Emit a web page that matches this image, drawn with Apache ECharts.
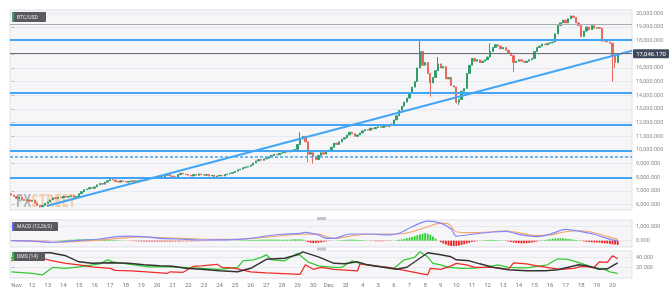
<!DOCTYPE html>
<html><head><meta charset="utf-8">
<script src="https://cdn.jsdelivr.net/npm/echarts@6/dist/echarts.min.js"></script>
<style>html,body{margin:0;padding:0;background:#fff}#c{width:670px;height:299px}</style>
</head><body><div id="c"></div>
<script>
// ---------- DATA ----------
const firstOpen = 6800;
// 4h closes, Nov 10 16:00 -> Dec 20 08:00 (Dec 2 04:00-20:00 missing)
const closes = [
 6700,6600,
 6450,6550,6400,6300,6350,6250,
 6300,6100,5950,5850,5950,6100,
 6200,6350,6500,6450,6550,6500,
 6600,6550,6600,6650,6550,6600,
 6800,6950,7100,7150,7250,7200,
 7300,7450,7550,7500,7650,7750,
 7850,7800,7700,7650,7750,7700,
 7650,7700,7750,7700,7750,7800,
 7750,7800,7850,7900,7950,8000,
 8050,8100,8000,8150,8200,8100,
 8050,7950,8200,8300,8250,8200,
 8150,8100,8200,8150,8250,8200,
 8150,8200,8100,8150,8050,8100,
 8150,8100,8200,8250,8300,8350,
 8450,8550,8600,8700,8750,8800,
 8900,9050,9200,9300,9250,9350,
 9400,9500,9600,9700,9650,9750,
 9800,9900,9850,9950,10000,10050,
 10400,10800,11000,10600,9700,9800,
 9500,9300,9600,9800,9700,9900,
 10000,10200,10500,10400,10600,10800,
 10900,
 11100,11300,11200,11000,11100,11250,
 11400,11500,11450,11600,11550,11650,
 11700,11650,11750,11700,11800,11900,
 12200,12500,12900,13200,13500,13800,
 14200,14600,15000,16000,17200,16200,
 16400,15600,14900,15300,15800,16300,
 16000,16100,15200,15300,14700,14600,
 13500,13700,14300,14500,15600,16200,
 16700,16500,16600,16400,16500,16600,
 16800,17200,17500,17700,17600,17400,
 17500,17300,17100,16900,16400,16500,
 16600,16500,16400,16500,16600,16700,
 17200,17500,17600,17750,17700,17800,
 17850,17900,18500,19100,19300,19500,
 19300,19600,19800,19700,19300,19100,
 18300,18700,19000,18800,19100,18900,
 18950,18900,17950,18000,17900,17800,
 16900,16400,17046.17
];
// notable wicks: [candle index, high, low]
const wicks = [
 [11,null,5800],[111,11300,null],[114,null,9100],[116,null,9000],
 [157,18050,null],[161,null,13900],[164,16800,null],[171,null,13400],[172,null,13300],
 [184,17800,null],[193,null,15700],[215,19850,null],[219,null,18250],
 [231,null,15000],[232,null,16000]
];
const blueLevels = [18050, 14220, 11880, 9930, 8000];
const dashedLevels = [9510];
const grayLevels = [19215];
const lastPrice = 17046.17;
const trendline = [[13.6, 5903], [238.5, 17264]];

const macdLine = [[0,0],[8,-30],[13,-100],[16,-120],[21,-50],[26,20],[34,120],[40,290],[45,330],[50,290],[57,170],[67,100],[73,50],[80,60],[85,80],[92,170],[98,330],[104,460],[111,530],[113,600],[118,410],[121,170],[124,170],[130,480],[137,480],[145,410],[149,530],[154,1000],[160,1400],[165,1260],[169,830],[171,330],[177,460],[185,620],[190,670],[196,410],[202,290],[207,460],[213,810],[219,650],[224,460],[230,100],[233,0]];
const signalLine = [[0,0],[8,-20],[16,-110],[24,-60],[34,40],[40,150],[50,270],[57,230],[73,120],[85,90],[98,250],[111,460],[118,470],[121,290],[124,170],[131,360],[137,460],[145,480],[149,480],[154,640],[160,1000],[165,1260],[168,1190],[171,640],[177,570],[185,640],[190,710],[196,530],[202,360],[207,410],[213,640],[219,710],[224,570],[230,240],[233,100]];
const macdHist = [
 -20,-25,-30,-35,-40,-40,-45,-40,-40,-35,-30,-30,-25,-20,-15,-10,-5,
 10,20,30,40,50,60,70,80,90,100,110,110,120,120,110,110,100,90,80,70,60,50,40,40,30,20,15,10,
 -10,-20,-30,-40,-40,-50,-50,-60,-60,-60,-60,-60,-60,-60,-60,-55,-55,-50,-50,-50,-50,-45,-45,-40,-40,-40,-35,-35,-30,-30,-25,-25,-20,-20,-15,-15,-10,-10,-5,-5,
 10,15,20,30,35,40,50,55,60,65,70,75,80,80,80,80,80,80,75,75,70,70,80,90,100,110,100,80,
 -40,-100,-150,-170,-160,-140,-110,-80,-50,
 -20,-10,0,10,20,
 40,60,70,80,80,70,60,50,40,20,
 -10,-20,-30,-40,-40,-40,-35,-30,-20,-10,0,
 30,60,90,130,170,220,270,330,390,450,500,530,500,420,300,
 150,0,-100,-200,-280,-340,-380,-380,-370,-340,-300,-250,-200,-150,-100,-60,-30,-10,
 20,40,50,60,60,50,40,30,10,
 -20,-60,-100,-130,-160,-180,-190,-190,-180,-160,-130,-100,-60,-20,
 20,50,80,110,140,160,170,170,160,150,130,110,80,50,20,
 -20,-50,-80,-100,-110,-120,-130,-140,-160,-180,-200,-230,-260,-280,-300
];
const adxLine = [[0,38],[13,49],[15,49],[21,43],[26,31],[31,28],[38,29],[45,28],[51,25],[57,23],[62,22],[67,18],[73,16],[80,13],[87,11],[92,18],[98,36],[105,38],[110,45],[112,51],[118,41],[124,28],[128,27],[133,31],[137,25],[143,20],[148,16],[152,20],[160,49],[165,45],[169,41],[171,35],[176,33],[180,27],[185,20],[191,15],[198,13],[205,13],[210,15],[214,20],[218,25],[221,23],[226,16],[229,17],[233,29]];
const plusDI = [[0,11],[8,8],[12,5],[16,20],[21,18],[26,21],[30,24],[34,27],[37,35],[39,31],[43,28],[47,25],[53,21],[60,21],[66,20],[73,18],[80,16],[87,20],[89,33],[93,35],[96,40],[98,45],[100,35],[105,33],[110,48],[114,31],[118,23],[124,20],[127,20],[131,33],[135,26],[143,21],[147,18],[151,35],[155,40],[157,51],[160,41],[162,28],[165,25],[168,20],[173,18],[176,18],[182,20],[187,25],[191,20],[198,19],[202,22],[206,25],[210,37],[214,36],[219,28],[223,21],[228,16],[230,11],[233,8]];
const minusDI = [[0,33],[3,38],[8,34],[12,38],[15,34],[21,28],[26,25],[31,21],[38,18],[40,14],[46,13],[52,11],[60,8],[61,11],[66,10],[70,22],[73,23],[79,26],[81,20],[85,19],[92,11],[98,9],[111,6],[113,25],[116,16],[119,20],[124,16],[133,13],[134,27],[139,23],[145,20],[150,15],[156,9],[160,5],[161,18],[165,16],[169,23],[171,28],[175,25],[178,20],[185,20],[191,16],[193,29],[198,27],[202,23],[207,19],[211,16],[216,18],[219,22],[224,20],[226,31],[229,30],[231,43],[233,37]];

const priceTicks = [6000,7000,8000,9000,10000,11000,12000,13000,14000,15000,16000,17000,18000,19000,20000];
const macdTicks = [0,1000];
const dmsTicks = [20,40];
const monthNames = ['Jan','Feb','Mar','Apr','May','Jun','Jul','Aug','Sep','Oct','Nov','Dec'];

// ---------- categories (4h timestamps) ----------
const H4 = 4*3600e3;
const categories = [];
{
  let t = Date.UTC(2017,10,10,16);
  const skipFrom = Date.UTC(2017,11,2,4), skipTo = Date.UTC(2017,11,3,0);
  while (categories.length < closes.length) { if (!(t>=skipFrom && t<skipTo)) categories.push(t); t += H4; }
  for (let k=0;k<5;k++){ categories.push(t); t += H4; }
}
const N = categories.length;
const firstMidnight = categories.findIndex(t => new Date(t).getUTCHours()===0);

const ohlc = closes.map((c,i)=>{
  const o = i ? closes[i-1] : firstOpen;
  let hi = Math.max(o,c), lo = Math.min(o,c);
  const w = wicks.find(w=>w[0]===i);
  if (w) { if (w[1]!=null) hi = w[1]; if (w[2]!=null) lo = w[2]; }
  return [o,c,lo,hi];
});

const fmt = v => v.toLocaleString('en-US',{minimumFractionDigits:3,maximumFractionDigits:3});
const GREEN = '#2f9e6a', RED = '#e8685a', BLUE = '#42a5f5';
const gridStyle = {show:true, backgroundColor:'#f6f6f8', borderColor:'#dde1ea', borderWidth:1};
const grids = [
  Object.assign({left:10, right:38, top:10, height:200}, gridStyle),
  Object.assign({left:10, right:38, top:220, height:27}, gridStyle),
  Object.assign({left:10, right:38, top:251, height:27}, gridStyle)
];
const catAxis = (g, showLabels) => ({
  type:'category', gridIndex:g, data:categories, boundaryGap:true,
  axisLine:{show:false}, axisTick:{show:false}, splitLine:{show:false},
  axisLabel: showLabels ? {
    show:true, fontSize:6, color:'#7a7a7a', margin:4, fontFamily:'Roboto',
    interval:(idx,val)=> idx < closes.length && new Date(+val).getUTCHours()===0,
    formatter:(val,idx)=>{ const d=new Date(+val); if (idx===firstMidnight || d.getUTCDate()===1) return monthNames[d.getUTCMonth()]; return String(d.getUTCDate()); }
  } : {show:false}
});
const valXAxis = g => ({type:'value', gridIndex:g, min:-0.5, max:N-0.5, show:false});
const yAx = (g,min,max,ticks) => ({
  type:'value', gridIndex:g, position:'right', min, max, scale:true,
  axisLine:{show:false},
  axisTick:{show:true, customValues:ticks, length:3, lineStyle:{color:'#b8bcc6'}},
  axisLabel:{show:true, customValues:ticks, fontSize:5.5, color:'#8a8a8a', margin:4, fontFamily:'Roboto', formatter:fmt},
  splitLine:{show:true, lineStyle:{color:'#e8e9ee', width:1}}
});

const hl = (v, color, width, type) => ({yAxis:v, lineStyle:{color, width, type:type||'solid'}});

const chart = echarts.init(document.getElementById('c'), null, {renderer:'canvas'});
chart.setOption({
  animation:false,
  backgroundColor:'#ffffff',
  grid: grids,
  xAxis: [catAxis(0,false), catAxis(1,false), catAxis(2,true), valXAxis(0), valXAxis(1), valXAxis(2)],
  yAxis: [yAx(0,5611,20241,priceTicks), yAx(1,-450,1479,macdTicks), yAx(2,-1.4,52.6,dmsTicks)],
  series: [
    {type:'candlestick', xAxisIndex:0, yAxisIndex:0, data:ohlc, barWidth:'70%',
     itemStyle:{color:GREEN, color0:RED, borderColor:GREEN, borderColor0:RED, borderWidth:1},
     markLine:{silent:true, symbol:['none','none'], label:{show:false}, animation:false,
       data:[
         ...grayLevels.map(v=>hl(v,'#a9abb2',1.2)),
         ...blueLevels.map(v=>hl(v,BLUE,2)),
         ...dashedLevels.map(v=>hl(v,BLUE,1.5,[3,2])),
         hl(lastPrice,'#6b6f78',1)
       ]}
    },
    {type:'line', xAxisIndex:3, yAxisIndex:0, data:trendline, symbol:'none', lineStyle:{color:BLUE, width:2}, silent:true},
    {type:'bar', xAxisIndex:1, yAxisIndex:1, data:macdHist, barWidth:'70%',
     itemStyle:{color:p=> p.value>=0 ? '#2ed12e' : '#f21f1f'}},
    {type:'line', xAxisIndex:4, yAxisIndex:1, data:signalLine, symbol:'none', smooth:0.3, lineStyle:{color:'#f4a56a', width:1.2}},
    {type:'line', xAxisIndex:4, yAxisIndex:1, data:macdLine, symbol:'none', smooth:0.3, lineStyle:{color:'#8088ff', width:1.2}},
    {type:'line', xAxisIndex:5, yAxisIndex:2, data:plusDI, symbol:'none', lineStyle:{color:'#35c935', width:1.3}},
    {type:'line', xAxisIndex:5, yAxisIndex:2, data:minusDI, symbol:'none', lineStyle:{color:'#f02a2a', width:1.3}},
    {type:'line', xAxisIndex:5, yAxisIndex:2, data:adxLine, symbol:'none', lineStyle:{color:'#333333', width:1.4}}
  ]
});

// annotations
const py = chart.convertToPixel({yAxisIndex:0}, lastPrice);
const tag = (x,y,w,h,txt,accent) => ({type:'group', children:[
  {type:'rect', z:100, shape:{x, y, width:w, height:h, r:1}, style:{fill:'#585a5e'}},
  {type:'rect', z:101, shape:{x, y, width:2, height:h}, style:{fill:accent}},
  {type:'text', z:102, x:x+5, y:y+h/2+0.5, style:{text:txt, fill:'#e8e8e8', fontSize:5, fontFamily:'Roboto', verticalAlign:'middle'}}
]});
chart.setOption({graphic:[
  {type:'text', x:16, y:194, scaleX:0.62, z:0, style:{rich:{a:{fill:'#8d8d8d',fontSize:17,fontWeight:'bold',fontFamily:'DejaVu Sans'}, b:{fill:'#f2b47a',fontSize:17,fontWeight:'bold',fontFamily:'DejaVu Sans'}}, text:'{a|FX}{b|STREET}', opacity:0.6}},
  tag(12,12,34,10,'BTC/USD','#3aa07a'),
  tag(12,222,46,9,'MACD (12,26,9)','#5866ff'),
  tag(12,252,33,9,'DMS (14)','#2fc62f'),
  {type:'rect', z:100, shape:{x:317,y:217,width:9,height:3}, style:{fill:'#c4c6cc'}},
  {type:'rect', z:100, shape:{x:317,y:247.5,width:9,height:3}, style:{fill:'#c4c6cc'}},
  {type:'group', children:[
    {type:'rect', z:100, shape:{x:633, y:py-4.5, width:36, height:9, r:1}, style:{fill:'#3d4a5c'}},
    {type:'text', z:101, x:651, y:py+0.5, style:{text:fmt(lastPrice), fill:'#fff', fontSize:6, fontFamily:'Roboto', align:'center', verticalAlign:'middle'}}
  ]}
]});
</script></body></html>
